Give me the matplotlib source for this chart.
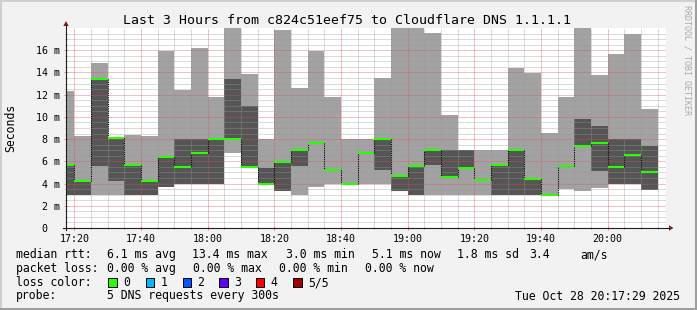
import matplotlib
matplotlib.use("Agg")
import matplotlib.pyplot as plt
from matplotlib.ticker import MultipleLocator, FixedLocator, FuncFormatter
from matplotlib.patches import Rectangle, Polygon
from matplotlib.lines import Line2D
import numpy as np

plt.rcParams['font.family'] = ['DejaVu Sans Mono']

W, H = 697, 310

# 5 minute bins, smoke = 5 DNS pings per bin (ms)
bin_start = ["17:15", "17:20", "17:25", "17:30", "17:35", "17:40", "17:45", "17:50", "17:55",
             "18:00", "18:05", "18:10", "18:15", "18:20", "18:25", "18:30", "18:35", "18:40",
             "18:45", "18:50", "18:55", "19:00", "19:05", "19:10", "19:15", "19:20", "19:25",
             "19:30", "19:35", "19:40", "19:45", "19:50", "19:55", "20:00", "20:05", "20:10"]
ping_min = [2.95, 2.95, 2.95, 2.95, 2.95, 2.95, 3.70, 3.96, 3.96,
            3.96, 6.73, 5.45, 3.96, 3.33, 2.95, 3.66, 3.96, 3.96,
            3.96, 3.96, 3.33, 2.95, 2.95, 2.95, 2.95, 2.95, 2.95,
            2.95, 2.95, 2.95, 3.48, 3.33, 3.60, 3.96, 3.96, 3.39]
ping_lo = [2.95, 2.95, 5.60, 4.20, 2.95, 2.95, 3.70, 3.96, 3.96,
           3.96, 8.00, 5.45, 3.96, 3.33, 5.59, 7.65, 5.23, 3.96,
           6.73, 5.23, 3.33, 2.95, 5.65, 4.56, 5.40, 4.32, 2.95,
           2.95, 2.95, 2.95, 5.59, 7.39, 5.14, 3.96, 3.96, 3.39]
ping_median = [5.65, 4.23, 13.40, 8.10, 5.65, 4.23, 6.37, 5.47, 6.76,
               8.00, 8.00, 5.47, 3.96, 5.98, 7.03, 7.65, 5.23, 3.96,
               6.73, 8.00, 4.71, 5.59, 7.00, 4.56, 5.40, 4.32, 5.65,
               7.03, 4.38, 2.95, 5.59, 7.39, 7.66, 5.47, 6.58, 5.05]
ping_hi = [5.60, 4.20, 13.45, 8.05, 5.60, 4.20, 6.34, 8.00, 8.00,
           8.00, 13.45, 10.96, 5.40, 5.95, 7.03, 7.65, 5.23, 3.96,
           6.73, 8.00, 4.71, 5.59, 7.00, 7.00, 7.00, 4.32, 5.60,
           7.03, 4.32, 2.95, 5.59, 9.79, 9.16, 8.00, 8.00, 7.36]
ping_max = [12.30, 8.26, 14.83, 8.10, 8.35, 8.26, 15.90, 12.40, 16.20,
            11.77, 19.00, 13.84, 8.00, 17.84, 12.58, 15.90, 11.77, 8.00,
            8.00, 13.50, 19.00, 19.00, 17.54, 10.15, 7.00, 7.00, 7.00,
            14.38, 13.93, 8.53, 11.77, 19.00, 13.75, 15.65, 17.48, 10.72]

loss_labels = ["0", "1", "2", "3", "4", "5/5"]
loss_colors = ["#26ff00", "#00b8ff", "#0059ff", "#5e00ff", "#ff0000", "#a00000"]

LIGHT = "#a2a2a2"
DARK = "#555555"
GRID = (0.60, 0.60, 0.60, 0.45)
MGRID = (0.87, 0.31, 0.31, 0.40)
ARROW = (0.50, 0.12, 0.12)
AXIS = (0.12, 0.12, 0.12)


def to_min(s):
    h, m = s.split(":")
    return int(h) * 60 + int(m)


def fx(x):
    return x / W


def fy(y):
    return 1 - y / H


t = np.array([to_min(s) for s in bin_start], dtype=float)
edges = np.append(t, t[-1] + 5)
x_start = 17 * 60 + 17 + 29 / 60.0
x_end = x_start + 180

fig = plt.figure(figsize=(W / 100, H / 100), dpi=100, facecolor="#f2f2f2")
ax = fig.add_axes([fx(66), fy(228), 600 / W, 200 / H])
ax.set_facecolor("white")

# smoke
ax.stairs(ping_max, edges, baseline=ping_min, fill=True, color=LIGHT, lw=0, zorder=1)
ax.stairs(ping_hi, edges, baseline=ping_lo, fill=True, color=DARK, lw=0, zorder=1.1)

# median: dotted black steps + green level lines
med = np.array(ping_median)
ax.vlines(edges[1:-1], med[:-1], med[1:], colors="black", linestyles=(0, (1, 1)),
          lw=0.8, zorder=3)
ax.hlines(med, edges[:-1], edges[1:], colors=loss_colors[0], lw=1.5, zorder=4)

ax.set_xlim(x_start, x_end)
ax.set_ylim(0, 18)

ax.xaxis.set_major_locator(MultipleLocator(20))
ax.xaxis.set_minor_locator(MultipleLocator(5))
ax.xaxis.set_major_formatter(FuncFormatter(lambda v, p: "%02d:%02d" % (int(v) // 60, int(v) % 60)))
ax.yaxis.set_major_locator(FixedLocator(np.arange(0, 17, 2)))
ax.yaxis.set_minor_locator(FixedLocator(np.arange(0.5, 18, 0.5)))
ax.yaxis.set_major_formatter(FuncFormatter(lambda v, p: "0  " if v == 0 else "%d m" % v))

ax.set_axisbelow(False)
ax.grid(which="major", color=MGRID, linestyle=(0, (1.44, 1.44)), lw=0.5)
ax.grid(which="minor", color=GRID, linestyle=(0, (1.44, 1.44)), lw=0.5)

ax.tick_params(which="major", direction="inout", length=3, width=0.7,
               color=(0.87, 0.31, 0.31, 0.6), labelsize=7.2, pad=2.8)
ax.tick_params(which="minor", direction="inout", length=2, width=0.7,
               color=(0.56, 0.56, 0.56, 0.75))
for s in ax.spines.values():
    s.set_visible(False)

# axis lines with arrows
fig.add_artist(Line2D([fx(66), fx(66)], [fy(230), fy(25)], color=AXIS, lw=0.8))
fig.add_artist(Line2D([fx(63), fx(669)], [fy(228), fy(228)], color=AXIS, lw=0.8))
fig.add_artist(Polygon([(fx(63.3), fy(26)), (fx(68.7), fy(26)), (fx(66), fy(21))],
                       closed=True, color=ARROW, lw=0))
fig.add_artist(Polygon([(fx(669), fy(225.3)), (fx(669), fy(230.7)), (fx(673.5), fy(228))],
                       closed=True, color=ARROW, lw=0))

# titles
fig.text(fx(347), fy(24), "Last 3 Hours from c824c51eef75 to Cloudflare DNS 1.1.1.1",
         ha="center", va="baseline", fontsize=9.5)
fig.text(fx(10.5), fy(128), "Seconds", rotation=90, ha="center", va="center", fontsize=8.3)
fig.text(fx(687.5), fy(60), "RRDTOOL / TOBI OETIKER", rotation=270, ha="center",
         va="center", fontsize=6, color="#aaaaaa")

# legend
LF = 8.3
rows = [
    (258.3, [(16, "median rtt:"), (107, "6.1 ms avg"), (192, "13.4 ms max"),
             (285.5, "3.0 ms min"), (372, "5.1 ms now"), (457, "1.8 ms sd"),
             (529, "3.4"), (580, "am/s")]),
    (272, [(16, "packet loss:"), (107, "0.00 % avg"), (193, "0.00 % max"),
           (279, "0.00 % min"), (365, "0.00 % now")]),
    (286, [(16, "loss color:")]),
    (299.5, [(16, "probe:"), (107, "5 DNS requests every 300s")]),
]
for yb, items in rows:
    for xl, txt in items:
        fig.text(fx(xl), fy(yb), txt, ha="left", va="baseline", fontsize=LF)

box_x = [108.3, 145.7, 182.7, 219.3, 256, 293.3]
for bx, lab, col in zip(box_x, loss_labels, loss_colors):
    fig.add_artist(Rectangle((fx(bx), fy(286.7)), 8.4 / W, 9 / H, facecolor=col,
                             edgecolor="black", lw=0.7))
    fig.text(fx(bx + 14.5), fy(286), lab, ha="left", va="baseline", fontsize=LF)

fig.text(fx(680), fy(299.5), "Tue Oct 28 20:17:29 2025", ha="right", va="baseline", fontsize=LF)

# 3d border
fig.add_artist(Rectangle((0, fy(2)), 1, 2 / H, color="#cfcfcf", lw=0))
fig.add_artist(Rectangle((0, 0), 2 / W, 1, color="#cfcfcf", lw=0))
fig.add_artist(Rectangle((0, 0), 1, 2 / H, color="#9e9e9e", lw=0))
fig.add_artist(Rectangle((fx(695), 0), 2 / W, 1, color="#9e9e9e", lw=0))

fig.savefig("out.png", dpi=100, facecolor=fig.get_facecolor())
